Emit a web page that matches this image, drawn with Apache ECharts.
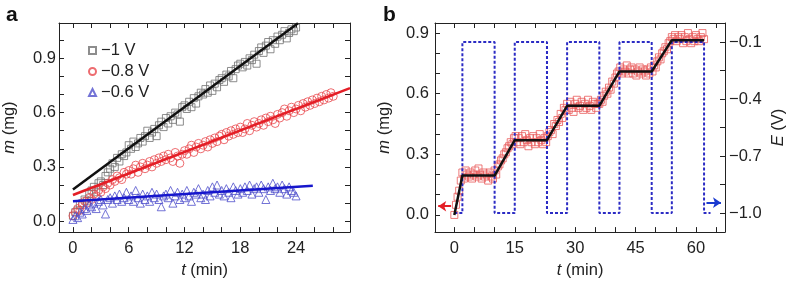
<!DOCTYPE html>
<html>
<head>
<meta charset="utf-8">
<script src="https://cdn.jsdelivr.net/npm/echarts@6/dist/echarts.min.js"></script>
<style>
  html, body { margin: 0; padding: 0; background: #fff; }
  #chart { width: 788px; height: 284px; }
</style>
</head>
<body>
<div id="chart"></div>
<script>
// ---- panel a : mass vs time at three potentials (sampled every 0.25 min) ----
const sampleStepA = 0.25;
const massMinus1V = [
  0.03, 0.05, 0.06, 0.09, 0.10, 0.12, 0.11, 0.15,
  0.17, 0.19, 0.16, 0.21, 0.22, 0.20, 0.25, 0.27,
  0.29, 0.32, 0.30, 0.35, 0.33, 0.37, 0.36, 0.38,
  0.42, 0.40, 0.44, 0.41, 0.43, 0.46, 0.44, 0.47,
  0.50, 0.46, 0.49, 0.51, 0.47, 0.53, 0.55, 0.52,
  0.57, 0.54, 0.58, 0.56, 0.60, 0.59, 0.55, 0.63,
  0.64, 0.62, 0.66, 0.63, 0.68, 0.65, 0.69, 0.71,
  0.70, 0.73, 0.71, 0.75, 0.72, 0.76, 0.74, 0.78,
  0.79, 0.77, 0.81, 0.80, 0.83, 0.79, 0.84, 0.86,
  0.87, 0.85, 0.88, 0.86, 0.90, 0.89, 0.92, 0.87,
  0.94, 0.96, 0.93, 0.97, 0.99, 0.95, 1.00, 0.98,
  1.02, 1.00, 1.03, 1.05, 1.01, 1.04, 1.06, 1.05,
  1.07
];
const massMinus08V = [
  0.03, 0.05, 0.07, 0.06, 0.09, 0.11, 0.10, 0.13,
  0.12, 0.15, 0.14, 0.17, 0.16, 0.19, 0.18, 0.21,
  0.20, 0.23, 0.22, 0.25, 0.24, 0.23, 0.27, 0.26,
  0.28, 0.26, 0.29, 0.31, 0.27, 0.30, 0.32, 0.29,
  0.31, 0.33, 0.30, 0.34, 0.32, 0.35, 0.33, 0.36,
  0.34, 0.37, 0.35, 0.33, 0.38, 0.36, 0.32, 0.37,
  0.39, 0.37, 0.40, 0.42, 0.38, 0.41, 0.43, 0.40,
  0.42, 0.44, 0.41, 0.45, 0.43, 0.46, 0.44, 0.47,
  0.48, 0.45, 0.49, 0.47, 0.50, 0.48, 0.51, 0.49,
  0.52, 0.49, 0.51, 0.54, 0.50, 0.53, 0.55, 0.52,
  0.54, 0.56, 0.53, 0.57, 0.55, 0.58, 0.56, 0.54,
  0.59, 0.57, 0.60, 0.62, 0.58, 0.61, 0.63, 0.60,
  0.62, 0.64, 0.61, 0.65, 0.63, 0.66, 0.64, 0.67,
  0.65, 0.68, 0.66, 0.69, 0.67, 0.70, 0.68, 0.71,
  0.69
];
const massMinus06V = [
  0.01, 0.03, 0.02, 0.05, 0.04, 0.07, 0.06, 0.09,
  0.08, 0.10, 0.07, 0.11, 0.12, 0.09, 0.04, 0.12,
  0.13, 0.10, 0.14, 0.12, 0.15, 0.11, 0.13, 0.16,
  0.12, 0.14, 0.11, 0.17, 0.13, 0.10, 0.15, 0.12,
  0.14, 0.11, 0.16, 0.13, 0.15, 0.12, 0.08, 0.14,
  0.15, 0.13, 0.17, 0.10, 0.14, 0.16, 0.12, 0.15,
  0.13, 0.17, 0.14, 0.11, 0.16, 0.15, 0.18, 0.13,
  0.15, 0.12, 0.17, 0.14, 0.19, 0.16, 0.20, 0.15,
  0.17, 0.14, 0.18, 0.16, 0.13, 0.19, 0.17, 0.15,
  0.18, 0.16, 0.19, 0.17, 0.20, 0.15, 0.18, 0.19,
  0.16, 0.20, 0.18, 0.12, 0.19, 0.17, 0.21, 0.18,
  0.19, 0.16, 0.20, 0.18, 0.15, 0.19, 0.17, 0.16,
  0.14
];
// linear fits (end points)
const fitMinus1V = [[0, 0.175], [24.2, 1.093]];
const fitMinus08V = [[0, 0.145], [29.8, 0.735]];
const fitMinus06V = [[0, 0.111], [25.8, 0.196]];
const legendNames = ['\u22121 V', '\u22120.8 V', '\u22120.6 V'];

// ---- panel b : mass under pulsed potential (sampled every 0.4 min) ----
const sampleStepB = 0.4;
const massPulsed = [
  0.00, 0.05, 0.09, 0.12, 0.17, 0.21, 0.18, 0.22, 0.20, 0.19,
  0.21, 0.18, 0.20, 0.22, 0.19, 0.23, 0.20, 0.18, 0.21, 0.19,
  0.20, 0.17, 0.21, 0.19, 0.18, 0.22, 0.20, 0.24, 0.25, 0.27,
  0.28, 0.30, 0.31, 0.33, 0.34, 0.36, 0.35, 0.38, 0.39, 0.36,
  0.38, 0.35, 0.39, 0.36, 0.40, 0.37, 0.34, 0.38, 0.36, 0.39,
  0.35, 0.38, 0.36, 0.40, 0.37, 0.35, 0.38, 0.36, 0.39, 0.41,
  0.42, 0.40, 0.45, 0.44, 0.47, 0.46, 0.50, 0.48, 0.53, 0.52,
  0.55, 0.52, 0.56, 0.53, 0.51, 0.55, 0.57, 0.53, 0.54, 0.56,
  0.52, 0.55, 0.53, 0.57, 0.54, 0.52, 0.56, 0.55, 0.53, 0.55,
  0.55, 0.57, 0.56, 0.59, 0.61, 0.60, 0.63, 0.62, 0.66, 0.65,
  0.68, 0.70, 0.71, 0.73, 0.70, 0.72, 0.71, 0.74, 0.70, 0.72,
  0.73, 0.70, 0.72, 0.69, 0.71, 0.73, 0.70, 0.72, 0.71, 0.69,
  0.72, 0.70, 0.73, 0.71, 0.74, 0.73, 0.76, 0.78, 0.77, 0.80,
  0.81, 0.83, 0.82, 0.85, 0.86, 0.88, 0.87, 0.89, 0.86, 0.88,
  0.87, 0.89, 0.85, 0.88, 0.86, 0.90, 0.87, 0.85, 0.88, 0.86,
  0.89, 0.87, 0.86, 0.88, 0.90, 0.87
];
const stepFit = [[0, 0], [2, 0.195], [10, 0.195], [15, 0.37], [23, 0.37], [28, 0.54],
  [36, 0.54], [41, 0.71], [49, 0.71], [54, 0.865], [62, 0.865]];
const pulseTimes = [0, 2, 2, 10, 10, 15, 15, 23, 23, 28, 28, 36, 36, 41, 41, 49, 49, 54, 54, 62, 62, 63.6];
const pulseVolts = [-1, -1, -0.1, -0.1, -1, -1, -0.1, -0.1, -1, -1, -0.1, -0.1, -1, -1, -0.1, -0.1, -1, -1, -0.1, -0.1, -1, -1];

// tick positions
const ticksTA = [0, 2, 4, 6, 8, 10, 12, 14, 16, 18, 20, 22, 24, 26, 28];
const labelsTA = [0, 6, 12, 18, 24];
const ticksMA = [0, 0.1, 0.2, 0.3, 0.4, 0.5, 0.6, 0.7, 0.8, 0.9, 1.0];
const labelsM = [0, 0.3, 0.6, 0.9];
const ticksTB = [0, 5, 10, 15, 20, 25, 30, 35, 40, 45, 50, 55, 60, 65];
const labelsTB = [0, 15, 30, 45, 60];
const ticksMB = [0, 0.1, 0.2, 0.3, 0.4, 0.5, 0.6, 0.7, 0.8, 0.9];
const ticksE = [-1.0, -0.85, -0.7, -0.55, -0.4, -0.25, -0.1];
const labelsE = [-1.0, -0.7, -0.4, -0.1];

function toPairs(values, step) {
  return values.map(function (v, i) { return [i * step, v]; });
}
function fmt(v) {
  return (v < 0 ? '\u2212' : '') + Math.abs(v).toFixed(1);
}

const font = 'Liberation Sans';
const axisColor = '#222';
const fs = 16.5;

function makeAxis(opts) {
  return Object.assign({
    type: 'value',
    axisLine: { show: true, onZero: false, lineStyle: { color: axisColor, width: 1 } },
    axisTick: { show: true, inside: true, length: 5, lineStyle: { color: axisColor, width: 1 }, customValues: opts.ticks },
    axisLabel: opts.labels ? {
      show: true, customValues: opts.labels, fontFamily: font, fontSize: fs, color: axisColor, margin: opts.margin || 6,
      formatter: opts.formatter
    } : { show: false },
    splitLine: { show: false },
    nameTextStyle: { fontFamily: font, fontSize: fs, color: axisColor, rich: { i: { fontFamily: font, fontSize: fs, fontStyle: 'italic', color: axisColor } } }
  }, opts.extra);
}

const chart = echarts.init(document.getElementById('chart'));

const option = {
  animation: false,
  backgroundColor: '#fff',
  title: [
    { text: 'a', left: 1, top: 0, textStyle: { fontFamily: font, fontSize: 21, fontWeight: 'bold', color: '#111' } },
    { text: 'b', left: 378, top: 0, textStyle: { fontFamily: font, fontSize: 21, fontWeight: 'bold', color: '#111' } }
  ],
  grid: [
    { left: 57, top: 23, width: 293, height: 216 },
    { left: 435, top: 23, width: 292, height: 216 }
  ],
  legend: {
    left: 83, top: 37, orient: 'vertical', itemWidth: 7, itemHeight: 7, itemGap: 4,
    data: [
      { name: legendNames[0], icon: 'rect' },
      { name: legendNames[1], icon: 'circle' },
      { name: legendNames[2], icon: 'triangle' }
    ],
    textStyle: { fontFamily: font, fontSize: 16.5, color: axisColor }
  },
  xAxis: [
    makeAxis({ ticks: ticksTA, labels: labelsTA, margin: 8, extra: {
      gridIndex: 0, position: 'bottom', min: -1.5, max: 29.8,
      name: '{i|t} (min)', nameLocation: 'middle', nameGap: 28 } }),
    makeAxis({ ticks: ticksTA, extra: { gridIndex: 0, position: 'top', min: -1.5, max: 29.8 } }),
    makeAxis({ ticks: ticksTB, labels: labelsTB, margin: 8, extra: {
      gridIndex: 1, position: 'bottom', min: -4.8, max: 67.2,
      name: '{i|t} (min)', nameLocation: 'middle', nameGap: 28 } }),
    makeAxis({ ticks: ticksTB, extra: { gridIndex: 1, position: 'top', min: -4.8, max: 67.2 } })
  ],
  yAxis: [
    makeAxis({ ticks: ticksMA, labels: labelsM, margin: 3, formatter: fmt, extra: {
      gridIndex: 0, position: 'left', min: -0.06, max: 1.095,
      name: '{i|m} (mg)', nameLocation: 'middle', nameGap: 41 } }),
    makeAxis({ ticks: ticksMA, extra: { gridIndex: 0, position: 'right', min: -0.06, max: 1.095 } }),
    makeAxis({ ticks: ticksMB, labels: labelsM, margin: 6, formatter: fmt, extra: {
      gridIndex: 1, position: 'left', min: -0.085, max: 0.95,
      name: '{i|m} (mg)', nameLocation: 'middle', nameGap: 42 } }),
    makeAxis({ ticks: ticksE, labels: labelsE, margin: 4, formatter: fmt, extra: {
      gridIndex: 1, position: 'right', min: -1.1, max: 0,
      name: '{i|E} (V)', nameLocation: 'middle', nameGap: 45 } })
  ],
  series: [
    {
      name: legendNames[0], type: 'scatter', xAxisIndex: 0, yAxisIndex: 0,
      symbol: 'rect', symbolSize: 7,
      itemStyle: { color: 'transparent', borderColor: '#707070', borderWidth: 1 },
      data: toPairs(massMinus1V, sampleStepA)
    },
    {
      name: legendNames[1], type: 'scatter', xAxisIndex: 0, yAxisIndex: 0,
      symbol: 'circle', symbolSize: 8,
      itemStyle: { color: 'transparent', borderColor: '#e8474c', borderWidth: 1 },
      data: toPairs(massMinus08V, sampleStepA)
    },
    {
      name: legendNames[2], type: 'scatter', xAxisIndex: 0, yAxisIndex: 0,
      symbol: 'triangle', symbolSize: 8,
      itemStyle: { color: 'transparent', borderColor: '#5050cc', borderWidth: 1 },
      data: toPairs(massMinus06V, sampleStepA)
    },
    {
      type: 'line', xAxisIndex: 0, yAxisIndex: 0, symbol: 'none',
      lineStyle: { color: '#111', width: 2.5 }, data: fitMinus1V
    },
    {
      type: 'line', xAxisIndex: 0, yAxisIndex: 0, symbol: 'none',
      lineStyle: { color: '#e41e26', width: 2.5 }, data: fitMinus08V
    },
    {
      type: 'line', xAxisIndex: 0, yAxisIndex: 0, symbol: 'none',
      lineStyle: { color: '#1616cc', width: 2.5 }, data: fitMinus06V
    },
    {
      type: 'line', xAxisIndex: 2, yAxisIndex: 3, symbol: 'none',
      lineStyle: { color: '#2b2bc4', width: 2, type: [3, 2] },
      data: pulseTimes.map(function (t, i) { return [t, pulseVolts[i]]; }),
      markLine: {
        silent: true, symbol: ['none', 'arrow'], symbolSize: [8, 8], label: { show: false },
        lineStyle: { color: '#1a3ad0', width: 2, type: 'solid' },
        data: [[{ coord: [62.6, -0.945] }, { coord: [66.2, -0.945] }]]
      }
    },
    {
      type: 'scatter', xAxisIndex: 2, yAxisIndex: 2,
      symbol: 'rect', symbolSize: 7,
      itemStyle: { color: 'transparent', borderColor: '#e85a5a', borderWidth: 1 },
      data: toPairs(massPulsed, sampleStepB)
    },
    {
      type: 'line', xAxisIndex: 2, yAxisIndex: 2, symbol: 'none',
      lineStyle: { color: '#111', width: 2.5 }, data: stepFit,
      markLine: {
        silent: true, symbol: ['none', 'arrow'], symbolSize: [8, 8], label: { show: false },
        lineStyle: { color: '#e41e26', width: 2, type: 'solid' },
        data: [[{ coord: [-0.8, 0.043] }, { coord: [-4.0, 0.043] }]]
      }
    }
  ]
};

chart.setOption(option);
</script>
</body>
</html>
